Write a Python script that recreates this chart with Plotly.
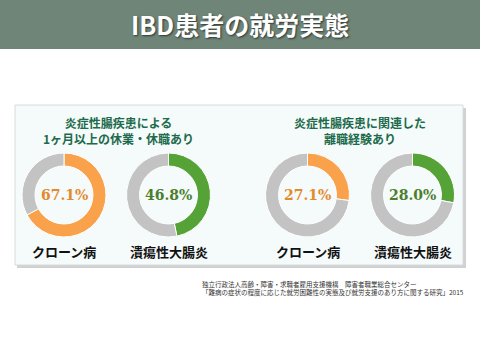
import plotly.graph_objects as go

# ---- data ----
title_text = "IBD患者の就労実態"
groups = ["炎症性腸疾患による<br>1ヶ月以上の休業・休職あり", "炎症性腸疾患に関連した<br>離職経験あり"]
diseases = ["クローン病", "潰瘍性大腸炎"]
leave_pct = [67.1, 46.8]      # 休業・休職あり
quit_pct = [27.1, 28.0]       # 離職経験あり
source_lines = ["独立行政法人高齢・障害・求職者雇用支援機構　障害者職業総合センター",
                "「難病の症状の程度に応じた就労困難性の実態及び就労支援のあり方に関する研究」2015"]

W, H = 480, 360
JP = "Noto Sans CJK JP"
colors = ["#f9a24b", "#55a236"]
text_colors = ["#e38a2c", "#4c7f2c"]
grey = "#c3c3c3"

fig = go.Figure()

centers_x = [64, 168.5, 307.5, 412.5]
cy = 195
r = 42
values = leave_pct + quit_pct
for i, (cx, v) in enumerate(zip(centers_x, values)):
    d = i % 2
    fig.add_trace(go.Pie(
        values=[v, 100 - v],
        marker=dict(colors=[colors[d], grey], line=dict(color="white", width=1)),
        hole=0.69, sort=False, direction="clockwise", rotation=0,
        textinfo="none", hoverinfo="skip", showlegend=False,
        domain=dict(x=[(cx - r) / W, (cx + r) / W], y=[(H - cy - r) / H, (H - cy + r) / H]),
    ))
    fig.add_annotation(x=cx / W, y=(H - cy) / H, xref="paper", yref="paper",
                       xanchor="center", yanchor="middle",
                       text=f"<b>{v:.1f}%</b>", showarrow=False,
                       font=dict(family="DejaVu Serif", size=14, color=text_colors[d]))
    fig.add_annotation(x=cx / W, y=(H - 252) / H, xref="paper", yref="paper",
                       xanchor="center", yanchor="middle",
                       text=f"<b>{diseases[d]}</b>", showarrow=False,
                       font=dict(family=JP, size=13, color="#111111"))

for g, gx in zip(groups, [118, 360]):
    fig.add_annotation(x=gx / W, y=(H - 130) / H, xref="paper", yref="paper",
                       xanchor="center", yanchor="middle",
                       text=f"<b>{g}</b>", showarrow=False,
                       font=dict(family=JP, size=12, color="#1d6b4c"))

# footer
fig.add_annotation(x=200 / W, y=(H - 288) / H, xref="paper", yref="paper",
                   text="<br>".join(source_lines), showarrow=False, xanchor="left",
                   yanchor="middle", align="left",
                   font=dict(family=JP, size=6.5, color="#333333"))

# title
fig.add_annotation(x=0.5, y=(H - 24) / H, xref="paper", yref="paper",
                   xanchor="center", yanchor="middle",
                   text=f"<b>{title_text}</b>", showarrow=False,
                   font=dict(family=JP, size=25, color="white",
                             shadow="1px 1px 2px rgba(0,0,0,0.6)"))

shapes = [
    dict(type="rect", xref="paper", yref="paper", x0=0, x1=1, y0=(H - 49) / H, y1=1,
         fillcolor="#6f8578", line=dict(width=0), layer="below"),
    # shadow
    dict(type="rect", xref="paper", yref="paper", x0=17 / W, x1=466 / W, y0=(H - 268) / H, y1=(H - 108) / H,
         fillcolor="rgba(0,0,0,0.18)", line=dict(width=0), layer="below"),
    dict(type="rect", xref="paper", yref="paper", x0=15 / W, x1=463 / W, y0=(H - 265) / H, y1=(H - 105) / H,
         fillcolor="#f5fafa", line=dict(color="#d6dcdc", width=1), layer="below"),
]

fig.update_layout(width=W, height=H, margin=dict(l=0, r=0, t=0, b=0),
                  paper_bgcolor="white", plot_bgcolor="white", shapes=shapes,
                  xaxis=dict(visible=False), yaxis=dict(visible=False))

fig.write_html("out.html", config={"displayModeBar": False},
               post_script="document.body.style.margin='0';")
